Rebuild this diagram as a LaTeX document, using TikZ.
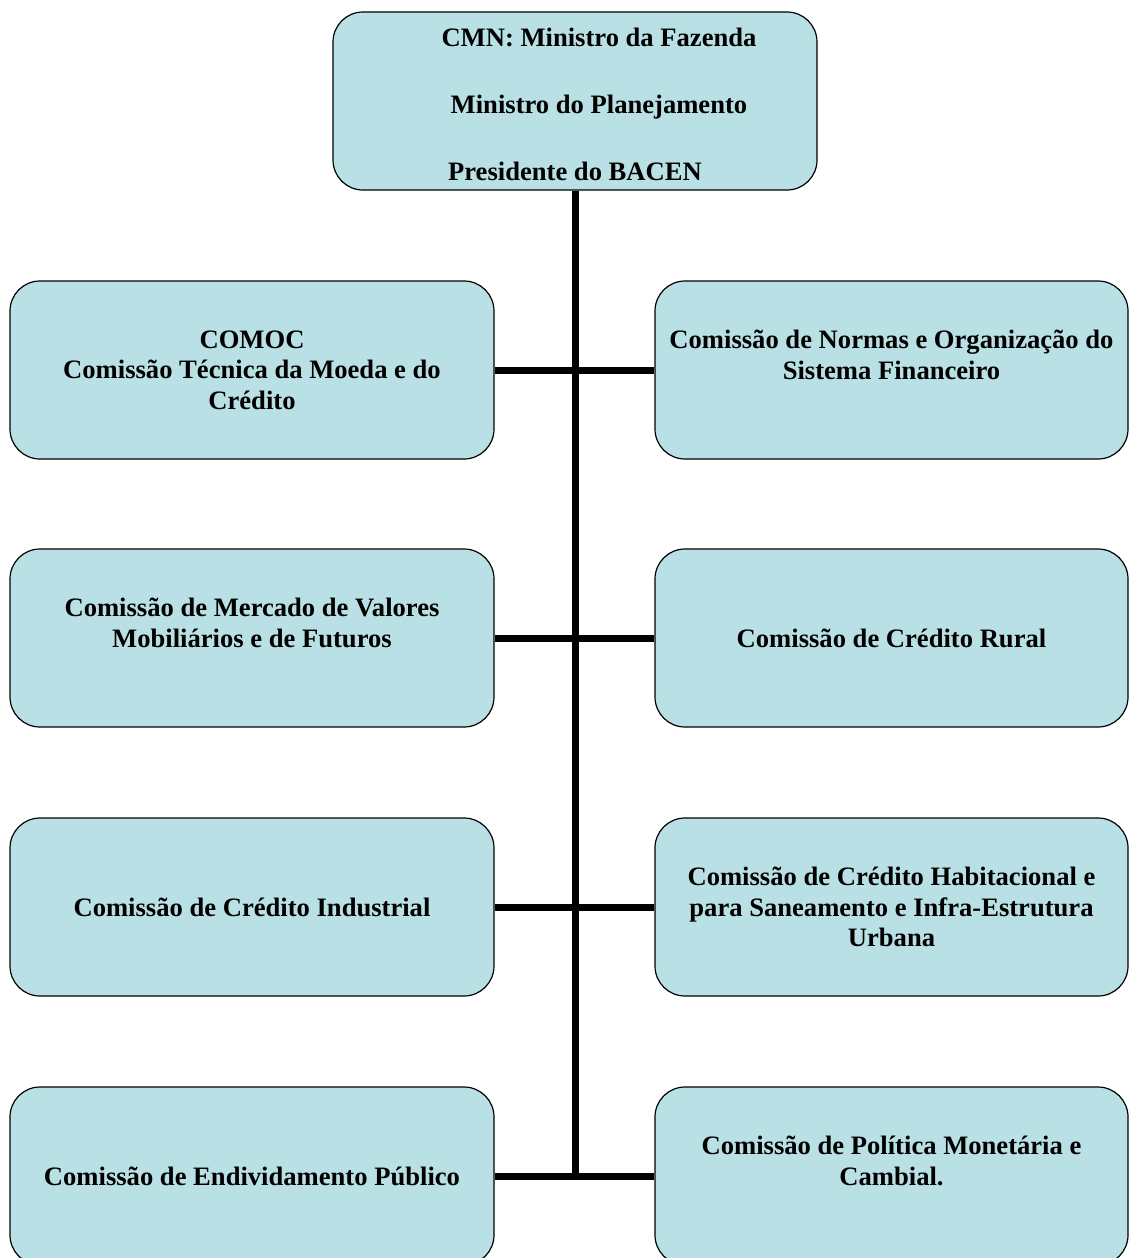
\documentclass[tikz,border=0pt]{standalone}
\usepackage{fontspec}
\setmainfont{Liberation Serif}
\usepackage{tikz}
\usetikzlibrary{positioning}
\definecolor{boxfill}{RGB}{185,224,228}
\tikzstyle{orgbox}=[draw=black,line width=0.6pt,fill=boxfill,rounded corners=15pt,minimum width=242pt,minimum height=89pt,align=center,inner sep=2pt,font=\bfseries\fontsize{13.3}{15.25}\selectfont]
\tikzstyle{link}=[line width=3.5pt]

\begin{document}
\begin{tikzpicture}[x=0.5pt,y=-0.5pt]
\useasboundingbox (0,0) rectangle (1131,1258);
\clip (0,0) rectangle (1131,1258);

% Council
\node[orgbox,font=\bfseries\fontsize{13.3}{33.5}\selectfont] (cmn) at (575,101)
  {\rule{0pt}{13pt}\hspace*{24pt}CMN: Ministro da Fazenda\\ \hspace*{24pt}Ministro do Planejamento\\ Presidente do BACEN};

% Left column
\node[orgbox] (comoc) at (252,370) {COMOC\\ Comissão Técnica da Moeda e do\\ Crédito};
\node[orgbox] (mercado) at (252,638) {Comissão de Mercado de Valores\\ Mobiliários e de Futuros\\ ~};
\node[orgbox] (industrial) at (252,907) {Comissão de Crédito Industrial};
\node[orgbox] (divida) at (252,1176) {Comissão de Endividamento Público};

% Right column
\node[orgbox,minimum width=236.5pt] (normas) at (891.5,370) {Comissão de Normas e Organização do\\ Sistema Financeiro\\ ~};
\node[orgbox,minimum width=236.5pt] (rural) at (891.5,638) {Comissão de Crédito Rural};
\node[orgbox,minimum width=236.5pt] (habitacional) at (891.5,907) {Comissão de Crédito Habitacional e\\ para Saneamento e Infra-Estrutura\\ Urbana};
\node[orgbox,minimum width=236.5pt] (monetaria) at (891.5,1176) {Comissão de Política Monetária e\\ Cambial.\\ ~};

% Links
\draw[link] (cmn.south) -- (cmn.south |- divida.east);
\foreach \l/\r in {comoc/normas, mercado/rural, industrial/habitacional, divida/monetaria}
  \draw[link] (\l.east) -- (\r.west);

\end{tikzpicture}
\end{document}
